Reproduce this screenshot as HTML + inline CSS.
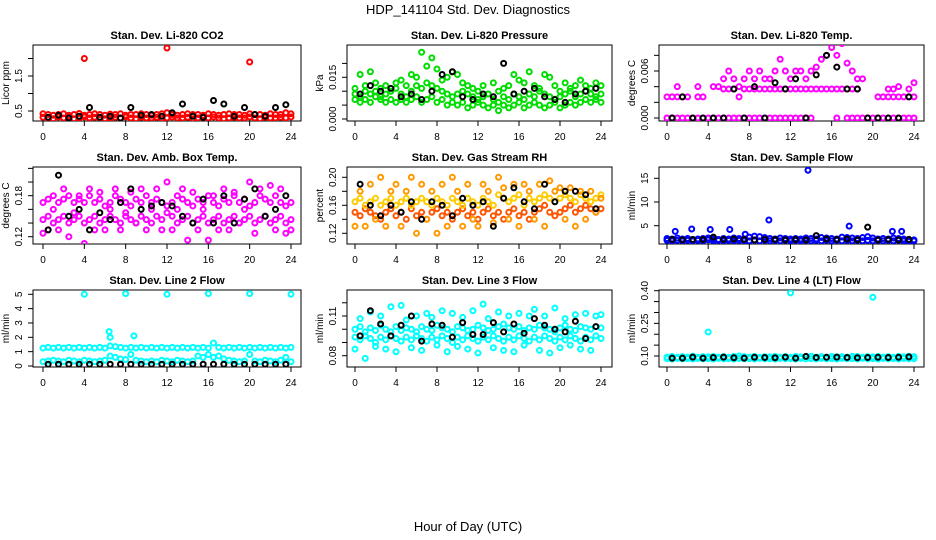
<!DOCTYPE html>
<html><head><meta charset="utf-8"><style>
html,body{margin:0;padding:0;background:#fff;}
svg{display:block;font-family:"Liberation Sans",sans-serif;}
</style></head><body>
<svg id="chart" width="936" height="540" viewBox="0 0 936 540" xmlns="http://www.w3.org/2000/svg">
<text x="468" y="14" text-anchor="middle" font-size="13">HDP_141104  Std. Dev. Diagnostics</text>
<text x="468" y="531" text-anchor="middle" font-size="13">Hour of Day (UTC)</text>
</svg>
<script>
const xTicks = [0,4,8,12,16,20,24];
// CO2
const co2A = [0.42,0.4,0.38,0.4,0.42,0.38,0.4,0.43,0.38,0.4,0.42,0.4,0.38,0.41,0.4,0.42,0.38,0.4,0.4,0.42,0.4,0.38,0.4,0.42,0.45,0.4,0.38,0.4,0.42,0.4,0.4,0.38,0.42,0.4,0.38,0.4,0.42,0.4,0.4,0.38,0.42,0.4,0.4,0.38,0.42,0.4,0.4,0.45,0.42];
const co2B = [0.32,0.3,0.28,0.33,0.3,0.32,0.28,0.3,0.33,0.3,0.32,0.3,0.28,0.3,0.32,0.3,0.33,0.3,0.28,0.32,0.3,0.3,0.32,0.28,0.3,0.33,0.3,0.3,0.32,0.28,0.3,0.32,0.3,0.33,0.3,0.28,0.3,0.32,0.3,0.3,0.33,0.3,0.28,0.32,0.3,0.3,0.32,0.3,0.33];
const co2K = [0.32,0.38,0.3,0.35,0.6,0.32,0.35,0.3,0.6,0.38,0.4,0.35,0.45,0.7,0.35,0.32,0.8,0.7,0.35,0.6,0.4,0.35,0.6,0.68];
const co2OutX = [4,12,20];
const co2OutY = [2.0,2.3,1.9];
// Pressure
const presA = [0.009,0.008,0.010,0.009,0.010,0.008,0.009,0.010,0.011,0.009,0.008,0.010,0.012,0.011,0.013,0.012,0.011,0.010,0.009,0.008,0.009,0.010,0.009,0.008,0.007,0.008,0.009,0.007,0.006,0.008,0.007,0.009,0.008,0.007,0.009,0.008,0.010,0.009,0.008,0.007,0.008,0.009,0.010,0.008,0.009,0.010,0.009,0.008,0.009];
const presB = [0.007,0.006,0.007,0.006,0.008,0.007,0.006,0.007,0.006,0.007,0.006,0.007,0.008,0.006,0.007,0.008,0.006,0.007,0.005,0.006,0.005,0.006,0.004,0.005,0.006,0.005,0.004,0.005,0.003,0.005,0.004,0.005,0.006,0.004,0.005,0.006,0.005,0.004,0.005,0.006,0.004,0.005,0.006,0.005,0.006,0.007,0.006,0.007,0.006];
const presC = [0.011,0.016,0.012,0.017,0.013,0.011,0.012,0.010,0.013,0.014,0.012,0.016,0.015,0.024,0.019,0.022,0.018,0.014,0.015,0.017,0.016,0.013,0.012,0.011,0.010,0.012,0.009,0.013,0.010,0.011,0.012,0.016,0.014,0.013,0.017,0.012,0.011,0.016,0.015,0.012,0.010,0.013,0.011,0.012,0.014,0.012,0.011,0.013,0.012];
const presK = [0.009,0.012,0.010,0.011,0.008,0.009,0.007,0.010,0.016,0.017,0.008,0.007,0.009,0.008,0.020,0.009,0.010,0.011,0.008,0.007,0.006,0.009,0.010,0.011];
// Li-820 Temp
const tempA = [0,0,0,0,0,0,0,0,0,0,0,0,0,0,0,0,0,0,0,0,0,0,0,0,0,0,0,0,0,null,null,null,null,0,null,0,0,0,0,0,0,0,0,0,0,0,0,0,0];
const tempB = [0.0027,0.0027,0.0027,0.0027,0.0027,null,0.0027,0.0027,null,null,null,0.0037,0.0037,0.0037,0.0027,0.0037,0.0037,0.0037,0.0037,0.0037,0.0037,0.0037,0.0037,0.0037,0.0037,0.0037,0.0037,0.0037,0.0037,0.0037,0.0037,0.0037,0.0037,0.0037,0.0037,0.0037,0.0037,0.0037,null,null,null,0.0027,0.0027,0.0027,0.0027,0.0027,0.0027,0.0027,0.0027];
const tempC = [null,null,0.004,null,null,null,0.004,null,null,0.004,0.004,0.005,0.006,0.005,0.004,0.005,0.006,0.005,0.006,0.005,0.005,0.006,0.0075,0.006,0.005,0.006,0.006,0.005,0.006,0.0065,0.0075,0.008,0.009,0.008,0.0095,0.007,0.006,0.005,0.005,null,null,null,null,0.0037,0.0037,0.004,null,0.0037,0.0045];
const tempK = [0,0.0027,0,0,0,0,0.0037,0,0.004,0,0.0045,0.0037,0.005,0,0.0055,0.008,0.0065,0.0037,0.0037,0,0,0,0,0.0027];
// Amb box temp
const ambA = [0.17,0.175,0.18,0.17,0.175,0.18,0.17,0.175,0.17,0.18,0.17,0.175,0.165,0.17,0.18,0.175,0.17,0.165,0.175,0.17,0.18,0.17,0.175,0.17,0.165,0.17,0.18,0.175,0.17,0.165,0.175,0.17,0.18,0.17,0.165,0.175,0.17,0.18,0.17,0.175,0.165,0.17,0.18,0.175,0.17,0.18,0.17,0.165,0.17];
const ambB = [0.145,0.15,0.14,0.145,0.15,0.14,0.145,0.15,0.14,0.145,0.15,0.14,0.145,0.15,0.145,0.14,0.15,0.145,0.14,0.15,0.145,0.14,0.15,0.145,0.155,0.15,0.14,0.145,0.15,0.14,0.145,0.15,0.14,0.145,0.15,0.14,0.145,0.15,0.14,0.145,0.15,0.14,0.145,0.15,0.14,0.145,0.15,0.14,0.145];
const ambC = [0.125,0.13,0.16,0.13,0.19,0.12,0.155,0.18,0.11,0.19,0.13,0.185,0.13,0.16,0.19,0.13,0.155,0.185,0.14,0.19,0.13,0.16,0.19,0.13,0.2,0.13,0.16,0.19,0.115,0.185,0.13,0.16,0.115,0.18,0.13,0.19,0.13,0.185,0.14,0.16,0.2,0.125,0.19,0.15,0.195,0.13,0.19,0.125,0.13];
const ambK = [0.13,0.21,0.15,0.16,0.13,0.155,0.145,0.17,0.19,0.16,0.165,0.17,0.165,0.15,0.14,0.175,0.14,0.18,0.14,0.175,0.19,0.15,0.16,0.18];
// RH
const rhA = [0.165,0.17,0.16,0.165,0.17,0.16,0.165,0.17,0.16,0.165,0.17,0.16,0.165,0.17,0.165,0.16,0.17,0.165,0.16,0.17,0.165,0.16,0.17,0.165,0.16,0.17,0.165,0.16,0.175,0.17,0.165,0.17,0.175,0.16,0.17,0.165,0.17,0.175,0.17,0.165,0.17,0.175,0.17,0.165,0.175,0.17,0.165,0.17,0.175];
const rhB = [0.15,0.145,0.155,0.15,0.145,0.14,0.15,0.155,0.145,0.15,0.14,0.155,0.145,0.15,0.14,0.15,0.155,0.145,0.15,0.14,0.15,0.155,0.145,0.15,0.14,0.15,0.155,0.145,0.15,0.14,0.15,0.155,0.145,0.15,0.14,0.15,0.155,0.16,0.15,0.145,0.15,0.155,0.16,0.15,0.155,0.16,0.155,0.15,0.155];
const rhC = [0.13,0.18,0.13,0.19,0.14,0.2,0.13,0.18,0.19,0.13,0.18,0.2,0.12,0.19,0.14,0.18,0.12,0.19,0.13,0.2,0.18,0.13,0.19,0.14,0.13,0.19,0.18,0.135,0.2,0.185,0.14,0.19,0.13,0.19,0.18,0.14,0.19,0.13,0.195,0.18,0.185,0.14,0.185,0.13,0.18,0.14,0.18,0.15,0.17];
const rhK = [0.19,0.16,0.145,0.16,0.15,0.165,0.14,0.165,0.16,0.145,0.17,0.16,0.165,0.13,0.17,0.185,0.165,0.155,0.19,0.165,0.18,0.18,0.175,0.155];
// Sample flow
const sfA = [2.3,2.2,2.4,2.2,2.3,2.1,2.2,2.3,2.4,2.2,2.1,2.3,2.2,2.4,2.3,2.2,2.6,2.8,2.7,2.5,2.3,2.2,2.4,2.3,2.2,2.3,2.2,2.4,2.3,2.2,2.5,2.4,2.3,2.2,2.6,2.5,2.4,2.3,2.5,2.7,2.4,2.2,2.3,2.2,2.4,2.3,2.2,2.1,2.0];
const sfB = [1.9,1.8,1.9,1.8,1.9,1.8,1.9,1.8,2.0,1.8,1.9,1.8,1.9,1.8,1.9,1.8,1.8,1.9,1.8,1.9,1.8,1.9,1.8,1.9,1.8,1.9,1.8,1.9,1.8,1.9,1.8,1.9,1.8,1.9,1.8,1.9,1.8,1.9,1.8,1.9,1.8,1.9,1.8,1.9,1.8,1.9,1.8,1.7,1.8];
const sfK = [2.1,2.0,2.1,2.1,2.6,2.1,2.2,2.1,2.0,2.1,2.1,2.0,2.1,2.0,2.9,2.2,2.1,2.2,2.0,4.7,2.0,2.1,2.0,2.1];
const sfOutX = [0.8,2.4,4.2,6.1,7.6,9.9,13.7,17.7,21.9,22.8];
const sfOutY = [3.8,4.3,4.2,4.2,3.2,6.2,16.7,4.9,3.8,3.8];
// Line 2 flow
const l2A = [1.25,1.3,1.25,1.3,1.25,1.3,1.25,1.3,1.25,1.3,1.25,1.3,1.25,1.4,1.35,1.3,1.25,1.3,1.25,1.3,1.25,1.3,1.25,1.3,1.25,1.3,1.25,1.3,1.25,1.3,1.25,1.3,1.25,1.6,1.3,1.25,1.3,1.25,1.3,1.25,1.3,1.25,1.3,1.25,1.3,1.25,1.3,1.25,1.3];
const l2B = [0.3,0.35,0.4,0.35,0.3,0.4,0.35,0.3,0.4,0.35,0.3,0.35,0.4,0.7,0.6,0.5,0.45,0.8,0.4,0.35,0.3,0.35,0.3,0.4,0.35,0.3,0.4,0.35,0.3,0.35,0.7,0.6,0.8,0.6,0.7,0.5,0.4,0.35,0.3,0.35,0.8,0.35,0.3,0.4,0.35,0.3,0.4,0.6,0.3];
const l2K = [0.12,0.12,0.12,0.12,0.12,0.12,0.12,0.12,0.12,0.12,0.12,0.12,0.12,0.12,0.12,0.12,0.12,0.12,0.12,0.12,0.12,0.12,0.12,0.12];
const l2OutX = [4,8,12,16,20,24,6.4,6.5,8.8];
const l2OutY = [5.0,5.05,5.0,5.05,5.05,5.0,2.4,2.0,2.1];
// Line 3 flow
const l3A = [0.100,0.102,0.098,0.101,0.099,0.103,0.100,0.098,0.102,0.099,0.101,0.100,0.098,0.102,0.100,0.099,0.103,0.101,0.100,0.098,0.102,0.101,0.099,0.100,0.103,0.101,0.099,0.100,0.102,0.104,0.101,0.100,0.102,0.099,0.101,0.100,0.103,0.101,0.100,0.098,0.101,0.103,0.100,0.099,0.102,0.101,0.100,0.102,0.101];
const l3B = [0.094,0.092,0.095,0.093,0.090,0.094,0.092,0.095,0.093,0.091,0.094,0.092,0.095,0.093,0.091,0.094,0.092,0.095,0.093,0.090,0.094,0.092,0.095,0.093,0.091,0.094,0.092,0.095,0.093,0.091,0.094,0.092,0.095,0.093,0.091,0.094,0.092,0.095,0.093,0.091,0.094,0.092,0.095,0.093,0.091,0.094,0.092,0.095,0.093];
const l3C = [0.085,0.108,0.078,0.113,0.087,0.110,0.085,0.117,0.083,0.118,0.107,0.086,0.110,0.084,0.112,0.109,0.088,0.114,0.083,0.112,0.087,0.109,0.085,0.114,0.082,0.119,0.108,0.086,0.113,0.084,0.110,0.083,0.112,0.088,0.110,0.115,0.084,0.110,0.082,0.116,0.086,0.108,0.088,0.111,0.085,0.112,0.084,0.110,0.111];
const l3K = [0.095,0.114,0.104,0.095,0.103,0.110,0.091,0.104,0.103,0.094,0.105,0.096,0.096,0.105,0.098,0.104,0.097,0.108,0.103,0.100,0.098,0.106,0.093,0.102];
// Line 4 flow
const l4A = [0.095,0.098,0.094,0.097,0.095,0.099,0.094,0.097,0.096,0.098,0.095,0.097,0.094,0.098,0.100,0.097,0.095,0.098,0.094,0.097,0.096,0.098,0.095,0.097,0.094,0.098,0.096,0.097,0.099,0.095,0.097,0.094,0.098,0.096,0.097,0.095,0.099,0.098,0.094,0.097,0.096,0.098,0.095,0.097,0.094,0.098,0.096,0.099,0.097];
const l4B = [0.088,0.086,0.089,0.087,0.088,0.086,0.089,0.087,0.088,0.086,0.089,0.087,0.088,0.086,0.089,0.087,0.088,0.086,0.089,0.087,0.088,0.086,0.089,0.087,0.088,0.086,0.089,0.087,0.088,0.086,0.089,0.087,0.088,0.086,0.089,0.087,0.088,0.086,0.089,0.087,0.088,0.086,0.089,0.087,0.088,0.086,0.089,0.087,0.088];
const l4K = [0.09,0.09,0.095,0.09,0.093,0.095,0.092,0.09,0.094,0.093,0.092,0.095,0.09,0.098,0.093,0.094,0.095,0.093,0.092,0.093,0.094,0.093,0.094,0.096];
const l4OutX = [4,12,20];
const l4OutY = [0.21,0.39,0.37];

const NS = "http://www.w3.org/2000/svg";
const svg = document.getElementById('chart');
const cols = [{l:33,r:301,x0:43,x24:291},{l:347,r:612,x0:355,x24:601},{l:659,r:924,x0:667,x24:914}];
const rows = [{t:45,b:121},{t:167,b:244},{t:290,b:367}];

function el(tag, attrs, parent){
  const e = document.createElementNS(NS, tag);
  for (const k in attrs) e.setAttribute(k, attrs[k]);
  (parent||svg).appendChild(e);
  return e;
}

function panel(p){
  const c = cols[p.col], r = rows[p.row];
  const g = el('g', {});
  
  
  const xs = h => c.x0 + (c.x24 - c.x0) * h / 24;
  const ys = v => p.p1 + (v - p.v1) * (p.p2 - p.p1) / (p.v2 - p.v1);
  const box = el('rect', {x:c.l, y:r.t, width:c.r-c.l, height:r.b-r.t, fill:'none', stroke:'#000', 'stroke-width':1}, g);
  
  
  const t = el('text', {x:(c.l+c.r)/2, y:r.t-6, 'text-anchor':'middle', 'font-size':11, 'font-weight':'bold'}, g);
  t.textContent = p.title;
  
  
  const yl = el('text', {x:c.l-24, y:(r.t+r.b)/2, 'text-anchor':'middle', 'font-size':10, transform:`rotate(-90 ${c.l-24} ${(r.t+r.b)/2})`}, g);
  yl.textContent = p.ylab;
  
  
  xTicks.forEach(h => {
    el('line', {x1:xs(h), x2:xs(h), y1:r.b, y2:r.b+5, stroke:'#000'}, g);
    const tx = el('text', {x:xs(h), y:r.b+19, 'text-anchor':'middle', 'font-size':10}, g);
    tx.textContent = h;
    
    
  });
  p.yTicks.forEach(v => {
    const y = ys(v);
    el('line', {x1:c.l-5, x2:c.l, y1:y, y2:y, stroke:'#000'}, g);
  });
  p.yLabels.forEach(v => {
    const y = ys(v), x = c.l-11;
    const ty = el('text', {x:x, y:y, 'text-anchor':'middle', 'font-size':10, transform:`rotate(-90 ${x} ${y})`}, g);
    ty.textContent = v.toFixed(p.dec);
    
    
  });
  const clipId = 'clip' + p.row + p.col;
  const cp = el('clipPath', {id:clipId}, g);
  el('rect', {x:c.l, y:r.t, width:c.r-c.l, height:r.b-r.t}, cp);
  const pts = el('g', {'clip-path':`url(#${clipId})`, fill:'none', 'stroke-width':2}, g);
  
  
  function dot(h, v, col){
    if (v === null) return;
    const d = el('circle', {cx:xs(h), cy:ys(v), r:2.5, stroke:col}, pts);
    
    
  }
  p.clouds.forEach(s => s.vals.forEach((v,i) => dot(i*0.5, v, s.col)));
  (p.outX||[]).forEach((h,i) => dot(h, p.outY[i], p.outCol || p.clouds[0].col));
  p.black.forEach((v,i) => dot(i+0.5, v, p.blackCol || '#000'));
}

panel({name:'panel-co2', row:0,col:0,title:'Stan. Dev. Li-820 CO2',ylab:'Licor ppm',v1:0.5,p1:111,v2:1.5,p2:76,yTicks:[0.5,1,1.5,2],yLabels:[0.5,1.5],dec:1,clouds:[{vals:co2B,col:'#ff0000'},{vals:co2A,col:'#ff0000'}],outX:co2OutX,outY:co2OutY,black:co2K});
panel({name:'panel-pressure', row:0,col:1,title:'Stan. Dev. Li-820 Pressure',ylab:'kPa',v1:0,p1:119,v2:0.015,p2:77.3,yTicks:[0,0.005,0.01,0.015,0.02],yLabels:[0,0.015],dec:3,clouds:[{vals:presB,col:'#00dd00'},{vals:presA,col:'#00dd00'},{vals:presC,col:'#00dd00'}],black:presK});
panel({name:'panel-li820-temp', row:0,col:2,title:'Stan. Dev. Li-820 Temp.',ylab:'degrees C',v1:0,p1:118,v2:0.006,p2:71,yTicks:[0,0.002,0.004,0.006,0.008],yLabels:[0,0.006],dec:3,clouds:[{vals:tempA,col:'#ff00ff'},{vals:tempB,col:'#ff00ff'},{vals:tempC,col:'#ff00ff'}],black:tempK});
panel({name:'panel-amb-box-temp', row:1,col:0,title:'Stan. Dev. Amb. Box Temp.',ylab:'degrees C',v1:0.12,p1:236.7,v2:0.18,p2:195.7,yTicks:[0.12,0.14,0.16,0.18,0.2,0.22],yLabels:[0.12,0.18],dec:2,clouds:[{vals:ambB,col:'#ff00ff'},{vals:ambA,col:'#ff00ff'},{vals:ambC,col:'#ff00ff'}],black:ambK});
panel({name:'panel-gas-rh', row:1,col:1,title:'Stan. Dev. Gas Stream RH',ylab:'percent',v1:0.12,p1:233.3,v2:0.2,p2:177.3,yTicks:[0.12,0.14,0.16,0.18,0.2],yLabels:[0.12,0.16,0.2],dec:2,clouds:[{vals:rhB,col:'#ff5500'},{vals:rhA,col:'#ffcc00'},{vals:rhC,col:'#ff9900'}],black:rhK});
panel({name:'panel-sample-flow', row:1,col:2,title:'Stan. Dev. Sample Flow',ylab:'ml/min',v1:5,p1:225.7,v2:15,p2:178.3,yTicks:[5,10,15],yLabels:[5,10,15],dec:0,clouds:[{vals:sfB,col:'#0000ff'},{vals:sfA,col:'#0000ff'}],outX:sfOutX,outY:sfOutY,black:sfK});
panel({name:'panel-line2-flow', row:2,col:0,title:'Stan. Dev. Line 2 Flow',ylab:'ml/min',v1:0,p1:366,v2:5,p2:294.3,yTicks:[0,1,2,3,4,5],yLabels:[0,1,2,3,4,5],dec:0,clouds:[{vals:l2A,col:'#00ffff'},{vals:l2B,col:'#00ffff'}],outX:l2OutX,outY:l2OutY,black:l2K});
panel({name:'panel-line3-flow', row:2,col:1,title:'Stan. Dev. Line 3 Flow',ylab:'ml/min',v1:0.08,p1:355.7,v2:0.11,p2:316,yTicks:[0.08,0.09,0.1,0.11,0.12],yLabels:[0.08,0.11],dec:2,clouds:[{vals:l3B,col:'#00ffff'},{vals:l3A,col:'#00ffff'},{vals:l3C,col:'#00ffff'}],black:l3K});
panel({name:'panel-line4-flow', row:2,col:2,title:'Stan. Dev. Line 4 (LT) Flow',ylab:'ml/min',v1:0.1,p1:356,v2:0.4,p2:290.7,yTicks:[0.1,0.15,0.2,0.25,0.3,0.35,0.4],yLabels:[0.1,0.25,0.4],dec:2,clouds:[{vals:l4B,col:'#00ffff'},{vals:l4A,col:'#00ffff'}],outX:l4OutX,outY:l4OutY,black:l4K});
</script>
</body></html>
